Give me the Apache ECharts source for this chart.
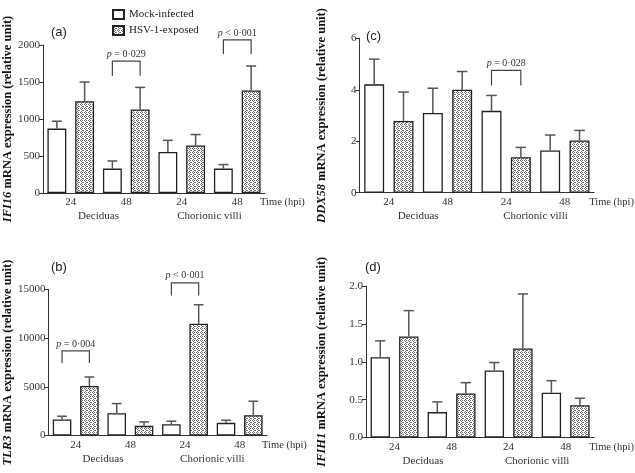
<!DOCTYPE html>
<html>
<head>
<meta charset="utf-8">
<script src="https://cdn.jsdelivr.net/npm/echarts@6/dist/echarts.min.js"></script>
<style>
  html, body { margin: 0; background: #fff; }
  #chart { width: 635px; height: 473px; }
</style>
</head>
<body>
<div id="chart"></div>
<script>
(function () {
  'use strict';

  const SERIF = 'Liberation Serif';
  const TIMES = ['24', '48', '24', '48'];
  const TISSUES = ['Deciduas', 'Chorionic villi'];
  const SLOTS = ['D24-mock', 'D24-hsv', 'D48-mock', 'D48-hsv', 'C24-mock', 'C24-hsv', 'C48-mock', 'C48-hsv'];
  const MOCK = 'Mock-infected';
  const HSV = 'HSV-1-exposed';

  // (a) IFI16 : mean and top of error bar, order D24, D48, C24, C48
  const ifi16Mock = [870, 330, 555, 330];
  const ifi16MockTop = [970, 433, 712, 384];
  const ifi16Hsv = [1240, 1130, 641, 1386];
  const ifi16HsvTop = [1499, 1427, 790, 1716];
  const ifi16Sig = [[2, 3, 1783, 1584], [6, 7, 2068, 1878]];
  const ifi16SigText = ['0·029', '0·001'];
  const ifi16SigOp = ['=', '<'];

  // (b) TLR3
  const tlr3Mock = [1640, 2290, 1160, 1300];
  const tlr3MockTop = [1980, 3280, 1470, 1570];
  const tlr3Hsv = [5090, 990, 11480, 2080];
  const tlr3HsvTop = [6010, 1400, 13430, 3520];
  const tlr3Sig = [[0, 1, 8690, 7450], [4, 5, 15690, 14380]];
  const tlr3SigText = ['0·004', '0·001'];
  const tlr3SigOp = ['=', '<'];

  // (c) DDX58
  const ddx58Mock = [4.21, 3.1, 3.18, 1.64];
  const ddx58MockTop = [5.19, 4.06, 3.78, 2.24];
  const ddx58Hsv = [2.79, 4.0, 1.38, 2.03];
  const ddx58HsvTop = [3.91, 4.71, 1.76, 2.42];
  const ddx58Sig = [[4, 5, 4.75, 4.17]];
  const ddx58SigText = ['0·028'];
  const ddx58SigOp = ['='];

  // (d) IFIH1
  const ifih1Mock = [1.06, 0.335, 0.886, 0.592];
  const ifih1MockTop = [1.276, 0.47, 0.99, 0.75];
  const ifih1Hsv = [1.333, 0.58, 1.175, 0.425];
  const ifih1HsvTop = [1.675, 0.724, 1.895, 0.518];
  const ifih1Sig = [];
  const ifih1SigText = [];
  const ifih1SigOp = [];

  function dotPattern() {
    const c = document.createElement('canvas');
    c.width = 4; c.height = 4;
    const g = c.getContext('2d');
    g.fillStyle = '#ffffff';
    g.fillRect(0, 0, 4, 4);
    g.fillStyle = '#707070';
    [[0, 0], [2, 0], [1, 1], [3, 2], [1, 3], [2, 2]].forEach(function (p) { g.fillRect(p[0], p[1], 1, 1); });
    return c;
  }
  const hsvFill = { image: dotPattern(), repeat: 'repeat' };

  const panels = [
    { tag: '(a)', gene: 'IFI16', mock: ifi16Mock, mockTop: ifi16MockTop, hsv: ifi16Hsv, hsvTop: ifi16HsvTop,
      sig: ifi16Sig, sigText: ifi16SigText, sigOp: ifi16SigOp, max: 2000, step: 500, digits: 0,
      grid: { left: 43, top: 45, width: 222, height: 148 }, nameGap: 29, tagPos: [51, 26] },
    { tag: '(b)', gene: 'TLR3', mock: tlr3Mock, mockTop: tlr3MockTop, hsv: tlr3Hsv, hsvTop: tlr3HsvTop,
      sig: tlr3Sig, sigText: tlr3SigText, sigOp: tlr3SigOp, max: 15000, step: 5000, digits: 0,
      grid: { left: 47, top: 289.5, width: 220, height: 146 }, nameGap: 34, tagPos: [51, 261] },
    { tag: '(c)', gene: 'DDX58', mock: ddx58Mock, mockTop: ddx58MockTop, hsv: ddx58Hsv, hsvTop: ddx58HsvTop,
      sig: ddx58Sig, sigText: ddx58SigText, sigOp: ddx58SigOp, max: 6, step: 2, digits: 0,
      grid: { left: 359.5, top: 38.3, width: 235, height: 154.4 }, nameGap: 31, tagPos: [366, 30] },
    { tag: '(d)', gene: 'IFIH1', mock: ifih1Mock, mockTop: ifih1MockTop, hsv: ifih1Hsv, hsvTop: ifih1HsvTop,
      sig: ifih1Sig, sigText: ifih1SigText, sigOp: ifih1SigOp, max: 2, step: 0.5, digits: 1,
      grid: { left: 366, top: 286, width: 229, height: 151.5 }, nameGap: 38, tagPos: [365, 261] }
  ];

  function interleave(vals, first) {
    const out = [];
    vals.forEach(function (v) {
      if (first) { out.push(v, '-'); } else { out.push('-', v); }
    });
    return out;
  }

  function errRender(params, api) {
    const p0 = api.coord([api.value(0), api.value(1)]);
    const p1 = api.coord([api.value(0), api.value(2)]);
    const half = api.size([1, 0])[0] * 0.18;
    const st = { stroke: '#555', lineWidth: 1.5 };
    return {
      type: 'group',
      children: [
        { type: 'line', shape: { x1: p0[0], y1: p0[1], x2: p1[0], y2: p1[1] }, style: st },
        { type: 'line', shape: { x1: p1[0] - half, y1: p1[1], x2: p1[0] + half, y2: p1[1] }, style: st }
      ]
    };
  }

  function sigRender(panel) {
    return function (params, api) {
      const a = api.coord([api.value(0), api.value(2)]);
      const b = api.coord([api.value(1), api.value(2)]);
      const legY = api.coord([api.value(0), api.value(3)])[1];
      const i = params.dataIndex;
      return {
        type: 'group',
        children: [
          { type: 'polyline', shape: { points: [[a[0], legY], a, b, [b[0], legY]] },
            style: { stroke: '#444', lineWidth: 1.2, fill: null } },
          { type: 'text', x: (a[0] + b[0]) / 2, y: a[1] - 2,
            style: { text: '{i|p} ' + panel.sigOp[i] + ' ' + panel.sigText[i], align: 'center', verticalAlign: 'bottom',
              fontFamily: SERIF, fontSize: 10, fill: '#333',
              rich: { i: { fontStyle: 'italic', fontFamily: SERIF, fontSize: 10, fill: '#333' } } } }
        ]
      };
    };
  }

  const grids = [], xAxes = [], yAxes = [], series = [], titles = [];
  const axisLine = { lineStyle: { color: '#333', width: 1 } };
  const tickLabel = { fontFamily: SERIF, fontSize: 11, color: '#333' };

  panels.forEach(function (p, k) {
    grids.push(p.grid);
    titles.push({ text: p.tag, left: p.tagPos[0], top: p.tagPos[1], padding: 0,
      textStyle: { fontFamily: 'Liberation Sans', fontSize: 13, fontWeight: 'normal', color: '#222' } });

    // slot axis: one category per bar, carries the line and ticks
    xAxes.push({ type: 'category', gridIndex: k, data: SLOTS, axisLine: axisLine,
      axisTick: { alignWithLabel: true, length: 5, lineStyle: { color: '#333' } },
      axisLabel: { show: false }, splitLine: { show: false } });
    // time labels
    xAxes.push({ type: 'category', gridIndex: k, data: TIMES, position: 'bottom',
      axisLine: { show: false }, axisTick: { show: false },
      axisLabel: Object.assign({ margin: 4, interval: 0 }, tickLabel),
      name: 'Time (hpi)', nameLocation: 'end', nameGap: -5,
      nameTextStyle: { fontFamily: SERIF, fontSize: 10.5, color: '#333', verticalAlign: 'top', padding: [4, 0, 0, 0] } });
    // tissue labels
    xAxes.push({ type: 'category', gridIndex: k, data: TISSUES, position: 'bottom', offset: 14,
      axisLine: { show: false }, axisTick: { show: false },
      axisLabel: Object.assign({ margin: 4, interval: 0 }, tickLabel) });

    yAxes.push({ type: 'value', gridIndex: k, min: 0, max: p.max, interval: p.step,
      axisLine: Object.assign({ show: true }, axisLine),
      axisTick: { show: true, length: 4, lineStyle: { color: '#333' } },
      axisLabel: Object.assign({ margin: 3, formatter: function (v) { return v.toFixed(p.digits); } }, tickLabel),
      splitLine: { show: false },
      name: '{g|' + p.gene + '} mRNA expression (relative unit)', nameLocation: 'middle', nameGap: p.nameGap,
      nameTextStyle: { fontFamily: SERIF, fontSize: 12.5, fontWeight: 'bold', color: '#111',
        rich: { g: { fontFamily: SERIF, fontSize: 12.5, fontWeight: 'bold', fontStyle: 'italic', color: '#111' } } } });

    const xi = k * 3;
    series.push({ type: 'bar', name: MOCK, xAxisIndex: xi, yAxisIndex: k, barWidth: '68%', barGap: '-100%',
      data: interleave(p.mock, true),
      itemStyle: { color: '#fff', borderColor: '#222', borderWidth: 1.3 } });
    series.push({ type: 'bar', name: HSV, xAxisIndex: xi, yAxisIndex: k, barWidth: '68%', barGap: '-100%',
      data: interleave(p.hsv, false),
      itemStyle: { color: hsvFill, borderColor: '#222', borderWidth: 1.3 } });

    const errData = [];
    p.mock.forEach(function (v, i) {
      errData.push([i * 2, v, p.mockTop[i]]);
      errData.push([i * 2 + 1, p.hsv[i], p.hsvTop[i]]);
    });
    series.push({ type: 'custom', xAxisIndex: xi, yAxisIndex: k, data: errData, renderItem: errRender,
      encode: { x: 0, y: [1, 2] }, clip: false, silent: true, z: 3 });

    if (p.sig.length) {
      series.push({ type: 'custom', xAxisIndex: xi, yAxisIndex: k, data: p.sig, renderItem: sigRender(p),
        encode: { x: [0, 1], y: [2, 3] }, clip: false, silent: true, z: 3 });
    }
  });

  const chart = echarts.init(document.getElementById('chart'));
  chart.setOption({
    animation: false,
    backgroundColor: '#fff',
    title: titles,
    legend: { data: [MOCK, HSV], orient: 'vertical', left: 112, top: 9, itemWidth: 11, itemHeight: 9, itemGap: 5,
      padding: 0, icon: 'rect', textStyle: { fontFamily: SERIF, fontSize: 11, color: '#222' } },
    grid: grids,
    xAxis: xAxes,
    yAxis: yAxes,
    series: series
  });
})();
</script>
</body>
</html>
